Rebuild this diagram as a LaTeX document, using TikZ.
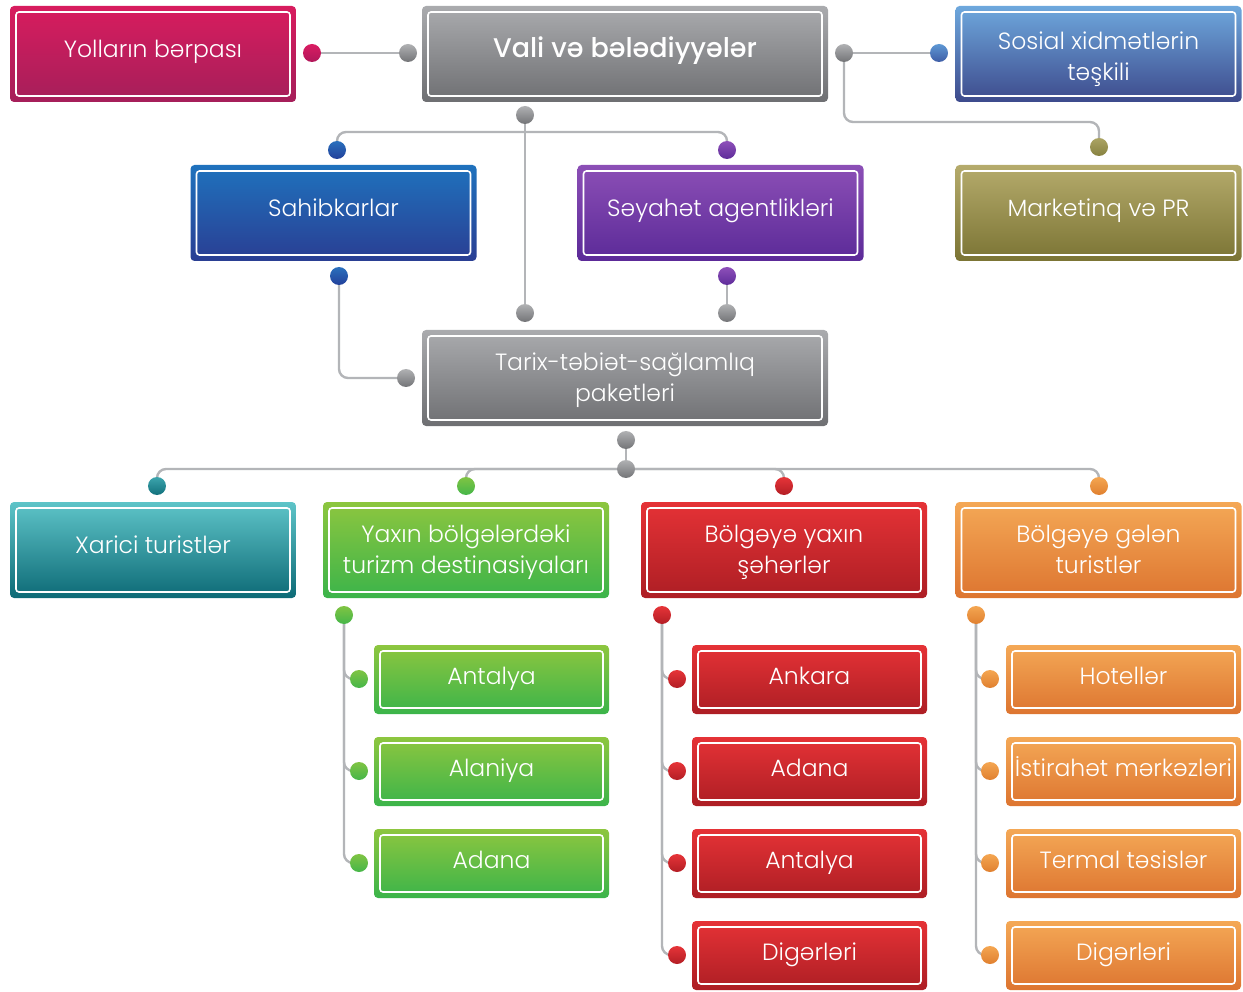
\documentclass[tikz,border=0pt]{standalone}
\usepackage{fontspec}
\setmainfont{Poppins}[UprightFont={* Light},BoldFont={* Medium}]
\usetikzlibrary{backgrounds,calc}
\newcommand\firststrut{\rule{0pt}{33pt}}
\newcommand\laterstrut{\rule{0pt}{26.5pt}}
\definecolor{lineg}{HTML}{B3B5B8}
\definecolor{gyA}{HTML}{AAABAE}\definecolor{gyB}{HTML}{6E6F72}
\definecolor{cmA}{HTML}{D81C5E}\definecolor{cmB}{HTML}{A51F5A}
\definecolor{slA}{HTML}{6EA8DD}\definecolor{slB}{HTML}{3D4A8C}
\definecolor{sbxA}{HTML}{1F72BD}\definecolor{sbxB}{HTML}{2A3E93}
\definecolor{pxA}{HTML}{8C4FB6}\definecolor{pxB}{HTML}{5B2A98}
\definecolor{oxA}{HTML}{B5AB6C}\definecolor{oxB}{HTML}{7B7434}
\definecolor{txA}{HTML}{5EC4C8}\definecolor{txB}{HTML}{0D6A76}
\definecolor{gxA}{HTML}{8DC63F}\definecolor{gxB}{HTML}{3BB44A}
\definecolor{rxA}{HTML}{E53236}\definecolor{rxB}{HTML}{AD1E24}
\definecolor{axA}{HTML}{F4A856}\definecolor{axB}{HTML}{DD7530}
\definecolor{crA}{HTML}{DA1C62}\definecolor{crB}{HTML}{B0175A}
\definecolor{sbA}{HTML}{5E98D4}\definecolor{sbB}{HTML}{3E5DA6}
\definecolor{olA}{HTML}{ABA464}\definecolor{olB}{HTML}{878140}
\definecolor{blA}{HTML}{2A70BD}\definecolor{blB}{HTML}{22409A}
\definecolor{puA}{HTML}{8E50B9}\definecolor{puB}{HTML}{5E2C9A}
\definecolor{teA}{HTML}{3CA5AD}\definecolor{teB}{HTML}{12707C}
\definecolor{grA}{HTML}{80C443}\definecolor{grB}{HTML}{45B649}
\definecolor{reA}{HTML}{E63438}\definecolor{reB}{HTML}{B31E25}
\definecolor{orA}{HTML}{F4A652}\definecolor{orB}{HTML}{E0802F}
\definecolor{gdA}{HTML}{B0B1B3}\definecolor{gdB}{HTML}{737477}
\tikzset{
  box/.style 2 args={rounded corners=4pt, minimum width=286pt, minimum height=96pt,
    top color=#1, bottom color=#2,
    text=white, font=\fontsize{23.5}{31}\selectfont, align=center, inner sep=0pt,
    path picture={\draw[white,line width=1.6pt,rounded corners=3pt]
      ([shift={(6pt,-6pt)}]path picture bounding box.north west) rectangle
      ([shift={(-6pt,6pt)}]path picture bounding box.south east);}},
  oneline/.style={execute at begin node={\rule{0pt}{30pt}},
    execute at end node={\rule[-23pt]{0pt}{23pt}}},
  twoline/.style={execute at end node={\rule[-10pt]{0pt}{10pt}}},
  widebox/.style={minimum width=406pt},
  subbox/.style={minimum width=235pt, minimum height=69pt,
    execute at begin node={\rule{0pt}{28pt}},
    execute at end node={\rule[-18pt]{0pt}{18pt}}},
  cdot/.style 2 args={circle, minimum size=18pt, inner sep=0pt, top color=#1, bottom color=#2},
  gdot/.style={cdot={gdA}{gdB}},
  conn/.style={draw=lineg, line width=2.4pt, rounded corners=9pt},
  gsub/.style={box={gxA}{gxB},subbox},
  rsub/.style={box={rxA}{rxB},subbox},
  osub/.style={box={axA}{axB},subbox},
}
\begin{document}
\begin{tikzpicture}[x=1pt,y=-1pt]
\useasboundingbox (0,0) rectangle (1243,992);
% main boxes
\node[box={cmA}{cmB},oneline] (yol) at (153,54) {Yolların bərpası};
\node[box={gyA}{gyB},widebox,oneline,font=\fontsize{27}{32}\selectfont\bfseries] (vali) at (625,54) {Vali və bələdiyyələr};
\node[box={slA}{slB},twoline] (sos) at (1098.5,54) {\firststrut Sosial xidmətlərin\\təşkili};
\node[box={sbxA}{sbxB},oneline] (sah) at (333.5,213) {Sahibkarlar};
\node[box={pxA}{pxB},oneline] (sey) at (720.5,213) {Səyahət agentlikləri};
\node[box={oxA}{oxB},oneline] (mkt) at (1098.5,213) {Marketinq və PR};
\node[box={gyA}{gyB},widebox,twoline] (tar) at (625,378) {\laterstrut Tarix-təbiət-sağlamlıq\\paketləri};
\node[box={txA}{txB},oneline] (xar) at (153,550) {Xarici turistlər};
\node[box={gxA}{gxB},twoline] (yax) at (466,550) {\laterstrut Yaxın bölgələrdəki\\turizm destinasiyaları};
\node[box={rxA}{rxB},twoline] (bol) at (784,550) {\laterstrut Bölgəyə yaxın\\şəhərlər};
\node[box={axA}{axB},twoline] (gel) at (1098.5,550) {\laterstrut Bölgəyə gələn\\turistlər};
% sub boxes
\node[gsub] (ga) at (491.5,679.5) {Antalya};
\node[gsub] (gb) at (491.5,771.5) {Alaniya};
\node[gsub] (gc) at (491.5,863.5) {Adana};
\node[rsub] (ra) at (809.5,679.5) {Ankara};
\node[rsub] (rb) at (809.5,771.5) {Adana};
\node[rsub] (rc) at (809.5,863.5) {Antalya};
\node[rsub] (rd) at (809.5,955.5) {Digərləri};
\node[osub] (oa) at (1123.5,679.5) {Hotellər};
\node[osub] (ob) at (1123.5,771.5) {İstirahət mərkəzləri};
\node[osub] (oc) at (1123.5,863.5) {Termal təsislər};
\node[osub] (od) at (1123.5,955.5) {Digərləri};
% dots
\node[cdot={crA}{crB}] (yolR) at (312,53) {};
\node[gdot] (valiL) at (408,53) {};
\node[gdot] (valiR) at (844,53) {};
\node[cdot={sbA}{sbB}] (sosL) at (939,53) {};
\node[cdot={olA}{olB}] (mktT) at (1099,147) {};
\node[gdot] (valiB) at (525,115) {};
\node[cdot={blA}{blB}] (sahT) at (337,150) {};
\node[cdot={puA}{puB}] (seyT) at (727,150) {};
\node[cdot={blA}{blB}] (sahB) at (339,276) {};
\node[cdot={puA}{puB}] (seyB) at (727,276) {};
\node[gdot] (tarT1) at (525,313) {};
\node[gdot] (tarT2) at (727,313) {};
\node[gdot] (tarL) at (406,378) {};
\node[gdot] (tarB) at (626,440) {};
\node[gdot] (hub) at (626,469) {};
\node[cdot={teA}{teB}] (xarT) at (157,486) {};
\node[cdot={grA}{grB}] (yaxT) at (466,486) {};
\node[cdot={reA}{reB}] (bolT) at (784,486) {};
\node[cdot={orA}{orB}] (gelT) at (1099,486) {};
\node[cdot={grA}{grB}] (yaxB) at (344,615) {};
\node[cdot={reA}{reB}] (bolB) at (662,615) {};
\node[cdot={orA}{orB}] (gelB) at (976,615) {};
\node[cdot={grA}{grB}] (g1) at (359,679) {};
\node[cdot={grA}{grB}] (g2) at (359,771) {};
\node[cdot={grA}{grB}] (g3) at (359,863) {};
\node[cdot={reA}{reB}] (r1) at (677,679) {};
\node[cdot={reA}{reB}] (r2) at (677,771) {};
\node[cdot={reA}{reB}] (r3) at (677,863) {};
\node[cdot={reA}{reB}] (r4) at (677,955) {};
\node[cdot={orA}{orB}] (o1) at (990,679) {};
\node[cdot={orA}{orB}] (o2) at (990,771) {};
\node[cdot={orA}{orB}] (o3) at (990,863) {};
\node[cdot={orA}{orB}] (o4) at (990,955) {};
\coordinate (j1) at (525,132);
\coordinate (j2) at (900,122);
% connectors
\begin{pgfonlayer}{background}
\draw[conn] (yolR.center) -- (valiL.center);
\draw[conn] (valiR.center) -- (sosL.center);
\draw[conn] (valiR.center) |- (j2) -| (mktT.center);
\draw[conn] (sahT.center) |- (j1) -| (seyT.center);
\draw[conn] (valiB.center) -- (tarT1.center);
\draw[conn] (seyB.center) -- (tarT2.center);
\draw[conn] (sahB.center) |- (tarL.center);
\draw[conn] (tarB.center) -- (hub.center);
\draw[conn] (xarT.center) |- (hub.center) -| (gelT.center);
\draw[conn] (yaxT.center) |- (hub.center);
\draw[conn] (bolT.center) |- (hub.center);
\foreach \d in {g1,g2,g3} \draw[conn] (yaxB.center) |- (\d.center);
\foreach \d in {r1,r2,r3,r4} \draw[conn] (bolB.center) |- (\d.center);
\foreach \d in {o1,o2,o3,o4} \draw[conn] (gelB.center) |- (\d.center);
\end{pgfonlayer}
\end{tikzpicture}
\end{document}
